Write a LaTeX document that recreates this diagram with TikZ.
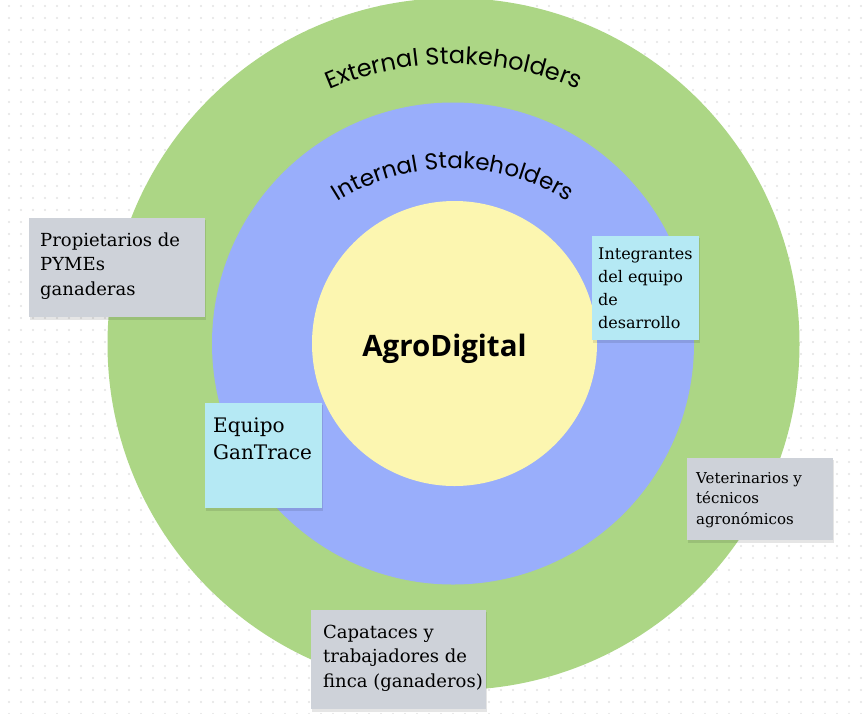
\documentclass[tikz,border=0pt]{standalone}
\usepackage{fontspec}
\setmainfont{DejaVu Serif}
\newfontfamily\titlefont{Poppins}
\newfontfamily\brandfont{Open Sans}
\usetikzlibrary{decorations.text}
\definecolor{dotc}{HTML}{E3E3E3}
\definecolor{ringgreen}{HTML}{ACD685}
\definecolor{ringblue}{HTML}{99AEFB}
\definecolor{coreyellow}{HTML}{FCF6B0}
\definecolor{notegrey}{HTML}{CED2D9}
\definecolor{noteblue}{HTML}{B5E9F4}
\begin{document}
\begin{tikzpicture}[x=1pt,y=1pt,
  notebox/.style={draw=none,inner sep=0,outer sep=0,anchor=north west},
  notetext/.style={anchor=north west,inner sep=0,align=left,text=black},
  shadowbox/.style={fill=black,opacity=0.10}
]
\useasboundingbox (0,0) rectangle (867,-713);
\fill[white] (0,0) rectangle (867,-713);
% dotted background
\foreach \i in {0,...,71}{
  \foreach \j in {0,...,59}{
    \fill[dotc] ({9+12*\i},{-6-12*\j}) circle (1.1);
  }
}
% rings
\fill[ringgreen] (453.5,-344) circle (346);
\fill[ringblue] (453,-343.5) circle (241);
\fill[coreyellow] (454.5,-343.5) circle (142.5);

% curved titles
\path[decorate,decoration={text along path,text align=center,
  text={|\titlefont\fontsize{24}{28}\selectfont|External Stakeholders}}]
  ({453.5+314*cos(150)},{-378+314*sin(150)}) arc[start angle=150,end angle=30,radius=314];
\path[decorate,decoration={text along path,text align=center,
  text={|\titlefont\fontsize{23}{27}\selectfont|Internal Stakeholders}}]
  ({453+215*cos(150)},{-383.5+215*sin(150)}) arc[start angle=150,end angle=30,radius=215];

% center label
\node[anchor=base,inner sep=0,font=\brandfont\bfseries\fontsize{29.5}{34}\selectfont] (core) at (444.5,-356.7) {AgroDigital};

% sticky notes: shadows
\fill[shadowbox] (30,-220) rectangle (206,-320);
\fill[shadowbox] (593,-238) rectangle (700,-343);
\fill[shadowbox] (206,-405) rectangle (323,-511);
\fill[shadowbox] (688,-460) rectangle (834,-543);
\fill[shadowbox] (312,-612) rectangle (487,-712);

% sticky notes
\node[notebox,fill=notegrey,minimum width=176,minimum height=99] (n1) at (29,-218) {};
\node[notebox,fill=noteblue,minimum width=107,minimum height=104] (n2) at (592,-236) {};
\node[notebox,fill=noteblue,minimum width=117,minimum height=105] (n3) at (205,-403) {};
\node[notebox,fill=notegrey,minimum width=146,minimum height=82] (n4) at (687,-458) {};
\node[notebox,fill=notegrey,minimum width=175,minimum height=99] (n5) at (311,-610) {};

% sticky texts (first baseline = top + 0.7*leading)
\node[notetext,font=\fontsize{18}{24.5}\selectfont] (t1) at (40,{-246+0.7*24.5})
  {\strut Propietarios de\\PYMEs\\ganaderas};
\node[notetext,font=\fontsize{16}{23}\selectfont] (t2) at (598,{-259+0.7*23})
  {\strut Integrantes\\del equipo\\de\\desarrollo};
\node[notetext,font=\fontsize{20}{27.5}\selectfont] (t3) at (213,{-432+0.7*27.5})
  {\strut Equipo\\GanTrace};
\node[notetext,font=\fontsize{15}{20.5}\selectfont] (t4) at (696,{-483+0.7*20.5})
  {\strut Veterinarios y\\técnicos\\agronómicos};
\node[notetext,font=\fontsize{18}{24.5}\selectfont] (t5) at (323,{-638+0.7*24.5})
  {\strut Capataces y\\trabajadores de\\finca (ganaderos)};
\end{tikzpicture}
\end{document}
